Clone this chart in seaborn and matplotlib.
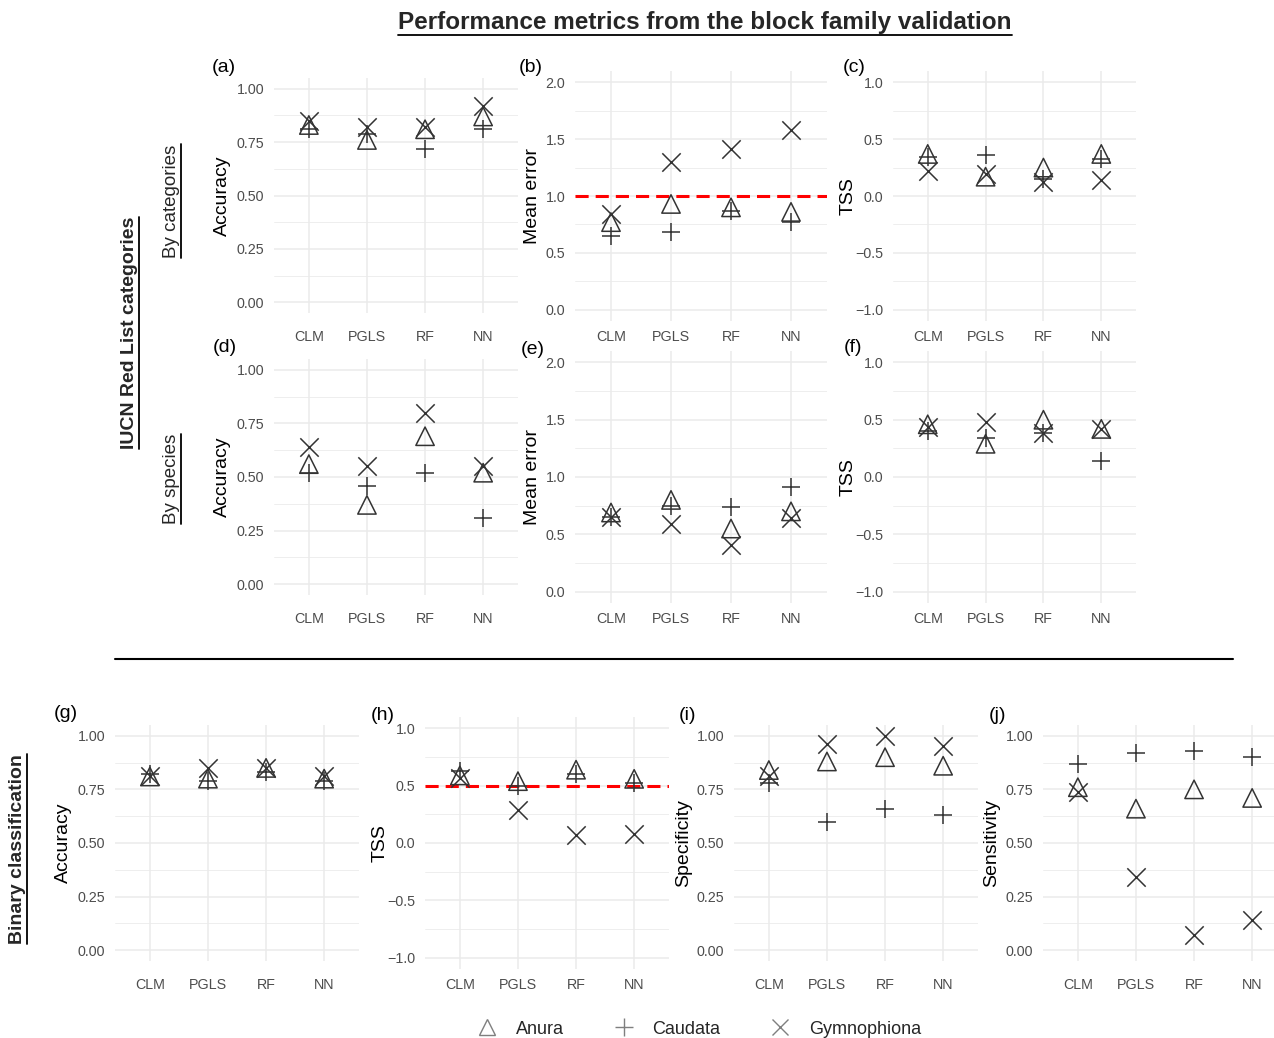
import matplotlib
matplotlib.use("Agg")
import numpy as np
import pandas as pd
import matplotlib.pyplot as plt
import seaborn as sns
from matplotlib.lines import Line2D
from matplotlib.ticker import MultipleLocator

models = ["CLM", "PGLS", "RF", "NN"]
species = ["Anura", "Caudata", "Gymnophiona"]

# IUCN categories - by categories
acc_cat = {"Anura": [0.83, 0.76, 0.81, 0.87],
           "Caudata": [0.81, 0.79, 0.72, 0.81],
           "Gymnophiona": [0.85, 0.82, 0.82, 0.92]}
me_cat = {"Anura": [0.77, 0.93, 0.90, 0.86],
          "Caudata": [0.65, 0.68, 0.87, 0.77],
          "Gymnophiona": [0.84, 1.30, 1.41, 1.58]}
tss_cat = {"Anura": [0.37, 0.17, 0.25, 0.37],
           "Caudata": [0.34, 0.36, 0.15, 0.33],
           "Gymnophiona": [0.22, 0.19, 0.12, 0.14]}

# IUCN categories - by species
acc_sp = {"Anura": [0.56, 0.37, 0.69, 0.52],
          "Caudata": [0.52, 0.46, 0.52, 0.31],
          "Gymnophiona": [0.64, 0.55, 0.80, 0.55]}
me_sp = {"Anura": [0.69, 0.80, 0.55, 0.70],
         "Caudata": [0.65, 0.75, 0.74, 0.91],
         "Gymnophiona": [0.65, 0.59, 0.41, 0.64]}
tss_sp = {"Anura": [0.46, 0.29, 0.50, 0.42],
          "Caudata": [0.40, 0.34, 0.38, 0.14],
          "Gymnophiona": [0.44, 0.48, 0.38, 0.42]}

# binary classification
acc_bin = {"Anura": [0.81, 0.80, 0.85, 0.80],
           "Caudata": [0.82, 0.79, 0.83, 0.79],
           "Gymnophiona": [0.81, 0.85, 0.85, 0.81]}
tss_bin = {"Anura": [0.59, 0.54, 0.64, 0.56],
           "Caudata": [0.63, 0.50, 0.60, 0.52],
           "Gymnophiona": [0.57, 0.29, 0.07, 0.08]}
spec_bin = {"Anura": [0.84, 0.88, 0.90, 0.86],
            "Caudata": [0.78, 0.60, 0.66, 0.63],
            "Gymnophiona": [0.81, 0.96, 1.00, 0.95]}
sens_bin = {"Anura": [0.76, 0.66, 0.75, 0.71],
            "Caudata": [0.87, 0.92, 0.93, 0.90],
            "Gymnophiona": [0.74, 0.34, 0.07, 0.14]}

W, H = 1274, 1038
sns.set_theme(style="whitegrid")
plt.rcParams['font.family'] = ['Liberation Sans', 'DejaVu Sans']

fig = plt.figure(figsize=(W / 100, H / 100), dpi=100)
fig.patch.set_facecolor("white")

def px(x, y):
    return x / W, 1 - y / H

mcol = "#333333"
shapes = {"Anura": "^", "Caudata": "+", "Gymnophiona": "x"}

# (data, tag, ylabel, kind, box(left, top, right, bottom), ref line, tag pos, label x)
panels = [
    (acc_cat, "(a)", "Accuracy", "acc", (274, 78, 518, 313), None, (212, 67), -0.176),
    (me_cat, "(b)", "Mean error", "me", (575, 71, 827, 321), 1.0, (519, 67), -0.135),
    (tss_cat, "(c)", "TSS", "tss", (893, 71, 1136, 321), None, (843, 67), -0.148),
    (acc_sp, "(d)", "Accuracy", "acc", (274, 359, 518, 595), None, (213, 348), -0.176),
    (me_sp, "(e)", "Mean error", "me", (575, 351, 827, 603), None, (521, 349), -0.135),
    (tss_sp, "(f)", "TSS", "tss", (893, 351, 1136, 603), None, (844, 348), -0.148),
    (acc_bin, "(g)", "Accuracy", "acc", (115, 725, 359, 961), None, (54, 713), -0.176),
    (tss_bin, "(h)", "TSS", "tss", (425, 717, 669, 969), 0.5, (371, 715), -0.148),
    (spec_bin, "(i)", "Specificity", "acc", (734, 725, 978, 961), None, (679, 715), -0.172),
    (sens_bin, "(j)", "Sensitivity", "acc", (1043, 725, 1287, 961), None, (989, 715), -0.176),
]

for data, tag, ylab, kind, box, ref, tpos, labx in panels:
    l, t, r, b = box
    ax = fig.add_axes([l / W, 1 - b / H, (r - l) / W, (b - t) / H])
    ax.set_facecolor("white")
    df = pd.DataFrame({"model": models * 3,
                       "species": np.repeat(species, 4),
                       "value": data["Anura"] + data["Caudata"] + data["Gymnophiona"]})
    if ref is not None:
        ax.axhline(ref, color="#FF0000", lw=2.2, dashes=(4.3, 2.3), zorder=1)
    for sp in species:
        sub = df[df["species"] == sp]
        if shapes[sp] == "^":
            sns.scatterplot(data=sub, x="model", y="value", marker="^", s=175,
                            facecolor="none", edgecolor=mcol, linewidth=1.1,
                            ax=ax, legend=False, zorder=3)
        else:
            sns.scatterplot(data=sub, x="model", y="value", marker=shapes[sp], s=175,
                            color=mcol, linewidth=1.1, ax=ax, legend=False, zorder=3)
    ax.set_xlim(-0.6, 3.6)
    if kind == "acc":
        ax.set_ylim(-0.05, 1.05)
        ax.set_yticks([0, 0.25, 0.5, 0.75, 1.0])
        ax.set_yticklabels(["0.00", "0.25", "0.50", "0.75", "1.00"])
        ax.yaxis.set_minor_locator(MultipleLocator(0.125))
        xpad = 12
    elif kind == "me":
        ax.set_ylim(-0.1, 2.1)
        ax.set_yticks([0, 0.5, 1.0, 1.5, 2.0])
        ax.set_yticklabels(["0.0", "0.5", "1.0", "1.5", "2.0"])
        ax.yaxis.set_minor_locator(MultipleLocator(0.25))
        xpad = 6.5
    else:
        ax.set_ylim(-1.1, 1.1)
        ax.set_yticks([-1.0, -0.5, 0, 0.5, 1.0])
        ax.set_yticklabels(["\u22121.0", "\u22120.5", "0.0", "0.5", "1.0"])
        ax.yaxis.set_minor_locator(MultipleLocator(0.25))
        xpad = 6.5
    ax.grid(True, which="major", color="#EBEBEB", lw=1.1)
    ax.grid(True, which="minor", axis="y", color="#EBEBEB", lw=0.6)
    ax.set_axisbelow(True)
    for s in ax.spines.values():
        s.set_visible(False)
    ax.tick_params(axis="x", length=0, pad=xpad, labelsize=10.3, labelcolor="#4D4D4D")
    ax.tick_params(axis="y", which="both", length=0, pad=7, labelsize=10.3, labelcolor="#4D4D4D")
    ax.set_xlabel("")
    ax.set_ylabel(ylab, fontsize=14, color="black")
    ax.yaxis.set_label_coords(labx, 0.5)
    fig.text(*px(*tpos), tag, fontsize=14, ha="left", va="center", color="black")

texts = []
texts.append((fig.text(*px(705, 23), "Performance metrics from the block family validation",
                       fontsize=17.5, fontweight="bold", ha="center", va="center"), False))
texts.append((fig.text(*px(130, 333), "IUCN Red List categories", fontsize=14, fontweight="bold",
                       rotation=90, ha="center", va="center"), True))
texts.append((fig.text(*px(172, 201), "By categories", fontsize=13.5,
                       rotation=90, ha="center", va="center"), True))
texts.append((fig.text(*px(172, 479), "By species", fontsize=13.5,
                       rotation=90, ha="center", va="center"), True))
texts.append((fig.text(*px(18, 849), "Binary classification", fontsize=14, fontweight="bold",
                       rotation=90, ha="center", va="center"), True))

fig.canvas.draw()
inv = fig.transFigure.inverted()
for t, rot in texts:
    bb = t.get_window_extent().transformed(inv)
    if rot:
        fig.add_artist(Line2D([bb.x1, bb.x1], [bb.y0, bb.y1], color="black", lw=1.3,
                              transform=fig.transFigure))
    else:
        fig.add_artist(Line2D([bb.x0, bb.x1], [bb.y0, bb.y0], color="black", lw=1.3,
                              transform=fig.transFigure))

# separator
x0, y0 = px(115, 659)
x1, _ = px(1233, 659)
fig.add_artist(Line2D([x0, x1], [y0, y0], color="black", lw=1.5, transform=fig.transFigure))

lcol = "#7F7F7F"
handles = [Line2D([], [], marker="^", ls="", ms=11, mfc="none", mec=lcol, mew=1.0),
           Line2D([], [], marker="+", ls="", ms=13, color=lcol, mew=1.0),
           Line2D([], [], marker="x", ls="", ms=11, color=lcol, mew=1.0)]
fig.legend(handles, species, loc="center", bbox_to_anchor=px(695, 1029), ncol=3,
           frameon=False, fontsize=13, handletextpad=0.6, columnspacing=2.3)

fig.savefig("out.png", dpi=100, facecolor="white")
